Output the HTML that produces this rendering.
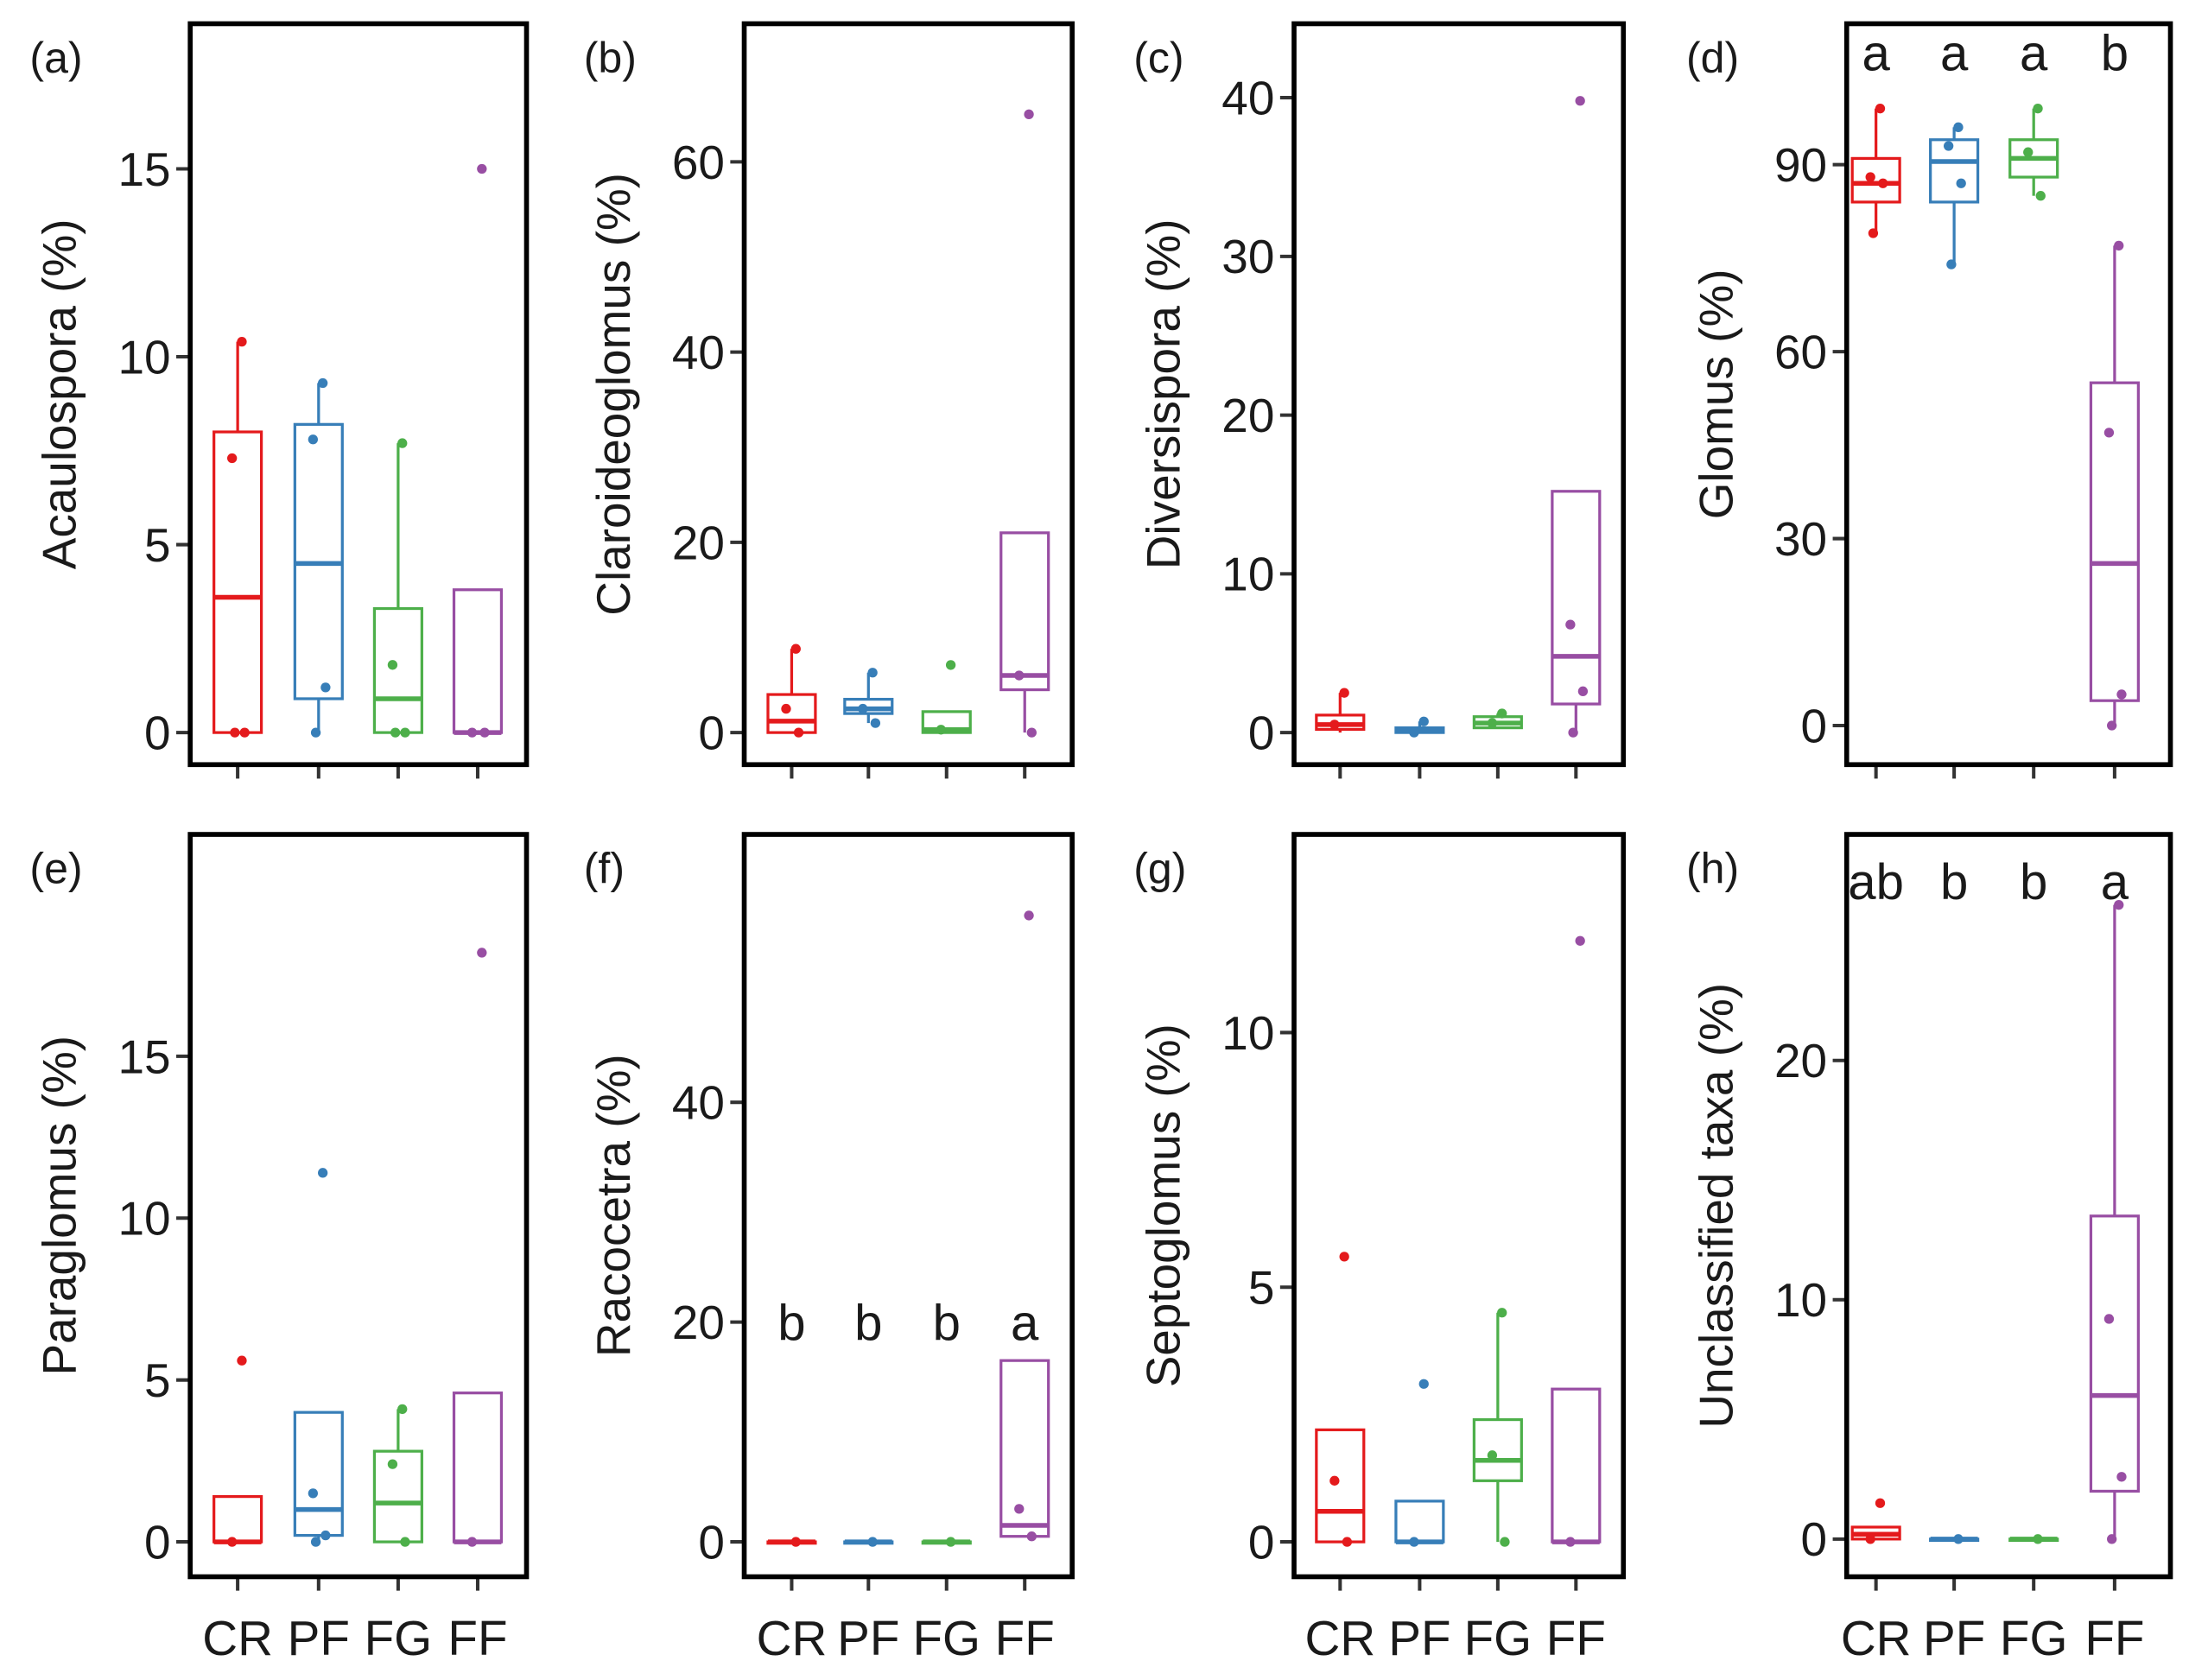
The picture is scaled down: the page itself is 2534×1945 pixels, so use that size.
<!DOCTYPE html>
<html><head><meta charset="utf-8"><style>
html,body{margin:0;padding:0;background:#fff}
svg{display:block}
text{font-family:"Liberation Sans",Arial,sans-serif;fill:#1a1a1a}
</style></head><body>
<svg id="chart" width="2534" height="1945" viewBox="0 0 1568 1204" xmlns="http://www.w3.org/2000/svg"></svg>
<script>
const categories = ["CR","PF","FG","FF"];
const colors = ["#E41A1C","#377EB8","#4DAF4A","#984EA3"];
const panelLabels = ["(a)","(b)","(c)","(d)","(e)","(f)","(g)","(h)"];
const yTitles = ["Acaulospora (%)","Claroideoglomus (%)","Diversispora (%)","Glomus (%)","Paraglomus (%)","Racocetra (%)","Septoglomus (%)","Unclassified taxa (%)"];
const yTicks = [[0,5,10,15],[0,20,40,60],[0,10,20,30,40],[0,30,60,90],[0,5,10,15],[0,20,40],[0,5,10],[0,10,20]];
const yMax = [15,60,40,90,15,40,10,20];
// box stats per panel: [whiskerLo, q1, median, q3, whiskerHi] per group
const boxStats = [
 [[0,0,3.6,8,10.4],[0,0.9,4.5,8.2,9.3],[0,0,0.9,3.3,7.7],[0,0,0,3.8,3.8]],
 [[0,0,1.2,4,8.8],[1,2,2.5,3.5,6.3],[0,0,0.3,2.2,2.2],[0,4.5,6,21,21]],
 [[0,0.2,0.5,1.1,2.5],[0,0,0.1,0.3,0.7],[0.3,0.3,0.6,1,1.2],[0,1.8,4.8,15.2,15.2]],
 [[79,84,87,91,99],[74,84,90.5,94,96],[85,88,91,94,99],[0,4,26,55,77]],
 [[0,0,0,1.4,1.4],[0,0.2,1,4,4],[0,0,1.2,2.8,4.1],[0,0,0,4.6,4.6]],
 [[0,0,0,0,0],[0,0,0,0,0],[0,0,0,0,0],[0.5,0.5,1.5,16.5,16.5]],
 [[0,0,0.6,2.2,2.2],[0,0,0,0.8,0.8],[0,1.2,1.6,2.4,4.5],[0,0,0,3,3]],
 [[0,0,0.2,0.5,0.5],[0,0,0,0,0],[0,0,0,0,0],[0,2,6,13.5,26.5]]
];
const pointVals = [
 [[10.4,7.3,0,0],[9.3,7.8,1.2,0],[7.7,1.8,0,0],[15,0,0]],
 [[8.8,2.5,0],[6.3,2.5,1],[7.1,0.3],[65,6,0]],
 [[2.5,0.5],[0.7,0],[1.2,0.6],[39.8,6.8,2.6,0]],
 [[99,88,87,79],[96,93,87,74],[99,92,85],[77,47,5,0]],
 [[5.6,0],[11.4,1.5,0.2,0],[4.1,2.4,0],[18.2,0]],
 [[0],[0],[0],[57,3,0.5]],
 [[5.6,1.2,0],[3.1,0],[4.5,1.7,0],[11.8,0]],
 [[1.5,0],[0],[0],[26.5,9.2,2.6,0]]
];
const letters = [null,null,null,["a","a","a","b"],null,["b","b","b","a"],null,["ab","b","b","a"]];
const letterLevel = [0,0,0,108,0,20,0,27.5];

// layout (pixels, not data)
const colLeft=[136,533,927,1323], colRight=[377,768,1163,1555];
const catX=[[170,228,285,342],[567,622,678,734],[960,1017,1073,1129],[1344,1400,1457,1515]];
const rowTop=[17,598], rowBot=[548,1130];
const zeroY=[525,525,525,520,1105,1105,1105,1103];
const maxY=[121,116,70,118,757,790,740,760];

const svg=document.getElementById('chart');
const NS='http://www.w3.org/2000/svg';
function mk(tag,attrs,parent){const e=document.createElementNS(NS,tag);for(const k in attrs)e.setAttribute(k,attrs[k]);(parent||svg).appendChild(e);return e;}

for(let p=0;p<8;p++){
  const col=p%4,row=Math.floor(p/4);
  const L=colLeft[col],R=colRight[col],T=rowTop[row],B=rowBot[row];
  const y=v=>zeroY[p]-(zeroY[p]-maxY[p])*v/yMax[p];
  const g=mk('g',{});
  
  
  const pl=mk('text',{x:L-115,y:T+35,'font-size':31},g);pl.textContent=panelLabels[p];
  
  
  const yt=mk('text',{x:0,y:0,'font-size':34,'text-anchor':'middle',transform:`translate(${L-82},${(T+B)/2}) rotate(-90)`},g);
  yt.textContent=yTitles[p];
  
  
  yTicks[p].forEach(t=>{
    const yy=y(t);
    mk('line',{x1:L-10,x2:L,y1:yy,y2:yy,stroke:'#333','stroke-width':2.5},g);
    const tl=mk('text',{x:L-14,y:yy+12,'font-size':34,'text-anchor':'end',fill:'#333'},g);
    tl.textContent=t;
    
    
  });
  categories.forEach((c,i)=>{
    const cx=catX[col][i];
    mk('line',{x1:cx,x2:cx,y1:B,y2:B+10,stroke:'#333','stroke-width':2.5},g);
    if(row===1){
      const xl=mk('text',{x:cx,y:B+56,'font-size':35,'text-anchor':'middle',fill:'#333'},g);
      xl.textContent=c;
      
      
    }
    const s=boxStats[p][i],col2=colors[i],hw=17;
    const bg=mk('g',{},g);
    
    
    mk('line',{x1:cx,x2:cx,y1:y(s[0]),y2:y(s[1]),stroke:col2,'stroke-width':2},bg);
    mk('line',{x1:cx,x2:cx,y1:y(s[3]),y2:y(s[4]),stroke:col2,'stroke-width':2},bg);
    mk('rect',{x:cx-hw,y:y(s[3]),width:hw*2,height:Math.max(y(s[1])-y(s[3]),1),fill:'none',stroke:col2,'stroke-width':2},bg);
    mk('line',{x1:cx-hw,x2:cx+hw,y1:y(s[2]),y2:y(s[2]),stroke:col2,'stroke-width':3.4},bg);
    pointVals[p][i].forEach((v,j)=>{
      const off=[3,-4,5,-2][j%4];
      const pt=mk('circle',{cx:cx+off,cy:y(v),r:3.5,fill:col2},bg);
      
      
    });
    if(letters[p]){
      const lt=mk('text',{x:cx,y:y(letterLevel[p])+13,'font-size':36,'text-anchor':'middle'},g);
      lt.textContent=letters[p][i];
      
      
    }
  });
  const fr=mk('rect',{x:L,y:T,width:R-L,height:B-T,fill:'none',stroke:'#000','stroke-width':3.5},g);
  
  
}
</script>
</body></html>
